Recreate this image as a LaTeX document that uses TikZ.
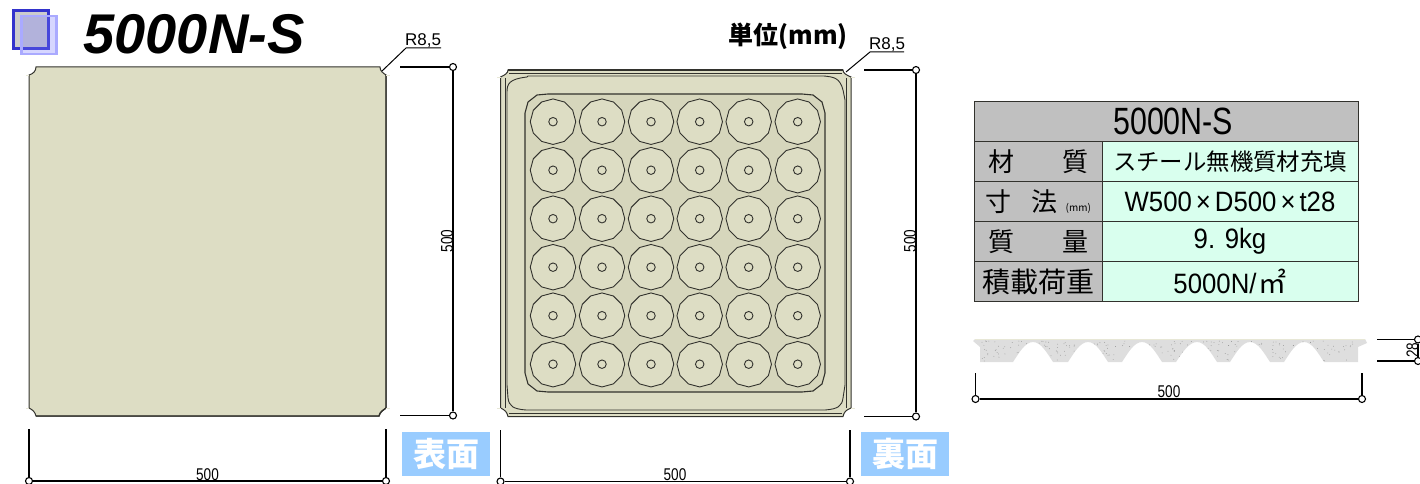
\documentclass[tikz,border=0pt]{standalone}
\usepackage{fontspec}
\usepackage{tikz}
\usetikzlibrary{shapes,positioning}
\setmainfont{Liberation Sans}
\newfontfamily\narrowfont[FakeStretch=0.8]{Liberation Sans}
\newfontfamily\valuefont[FakeStretch=0.92]{Liberation Sans}
\newfontfamily\cjkfont{Noto Sans CJK JP}
\definecolor{plate}{RGB}{221,221,196}
\definecolor{recess}{RGB}{214,214,188}
\definecolor{edge}{RGB}{50,50,45}
\definecolor{cellgrey}{RGB}{192,192,192}
\definecolor{cellgreen}{RGB}{217,255,238}
\definecolor{tagblue}{RGB}{153,204,255}
\tikzset{
  dimdot/.style={circle, draw, minimum size=7pt, inner sep=0pt, line width=1.1pt},
  dimline/.style={draw, line width=1.1pt},
  dimtext/.style={inner sep=0pt, font=\narrowfont\fontsize{17}{17}\selectfont},
  pad/.style={regular polygon, regular polygon sides=12, regular polygon rotate=15, draw=edge, fill=plate, minimum size=45.5pt, inner sep=0pt, line width=0.9pt},
  hole/.style={circle, draw=edge, minimum size=8.5pt, inner sep=0pt, line width=0.9pt},
  headcell/.style={rectangle, draw=edge, fill=cellgrey, line width=1pt, inner sep=0pt, outer sep=0pt, minimum width=383.5pt, minimum height=40pt, font=\narrowfont\fontsize{38}{38}\selectfont},
  labelcell/.style={rectangle, draw=edge, fill=cellgrey, line width=1pt, inner sep=0pt, outer sep=0pt, minimum width=127.5pt, minimum height=40pt, font=\cjkfont\fontsize{26}{26}\selectfont},
  valuecell/.style={rectangle, draw=edge, fill=cellgreen, line width=1pt, inner sep=0pt, outer sep=0pt, minimum width=256pt, minimum height=40pt, font=\valuefont\fontsize{28}{28}\selectfont},
  facetag/.style={rectangle, fill=tagblue, text=white, inner sep=0pt, minimum width=88pt, minimum height=44pt, font=\cjkfont\bfseries\fontsize{33}{33}\selectfont},
  whisker/.style={draw=plate!70!white, line width=0.8pt},
}
\begin{document}
\begin{tikzpicture}[x=1pt, y=-1pt]
\useasboundingbox (0,0) rectangle (1420,484);

\node (iconback) [rectangle, draw={rgb,255:red,51;green,51;blue,204}, fill=black!20, line width=2.5pt, minimum width=35pt, minimum height=38pt, inner sep=0pt] at (31,29.5) {};
\node (iconfront) [rectangle, draw={rgb,255:red,170;green,170;blue,255}, fill={rgb,255:red,120;green,120;blue,255}, fill opacity=0.3, line width=2.5pt, minimum width=35pt, minimum height=38pt, inner sep=0pt] at (39,35) {};
\node (title) [inner sep=0pt, font=\bfseries\itshape\fontsize{56}{56}\selectfont] at (194,34) {5000N-S};
\node (unit) [inner sep=0pt, font=\cjkfont\bfseries\fontsize{25}{25}\selectfont] at (788,36) {単位(mm)};

\draw [edge, line width=1pt, fill=plate] (36,67) -- (380,67) .. controls (380,71) and (383,73) .. (386,75) -- (386,408) .. controls (383,410) and (380,412) .. (379,416) -- (36,416) .. controls (35,412) and (33,410) .. (29,408) -- (29,75) .. controls (33,74) and (36,71) .. (36,67) -- cycle;
\draw [edge, line width=1.4pt] (386,75) -- (386,408) .. controls (383,410) and (380,412) .. (379,416) -- (36,416);
\draw [whisker] (26,75) -- (29,75) (386,75) -- (390,75) (26,408) -- (29,408) (386,408) -- (390,408);

\draw [edge, line width=1pt, fill=plate] (508,70) -- (843,70) .. controls (843,73) and (846,75) .. (851,77) -- (851,408) .. controls (846,410) and (844,412) .. (843,416.5) -- (508,416.5) .. controls (507,412) and (505,410) .. (500.5,408) -- (500.5,77) .. controls (505,75) and (508,73) .. (508,70) -- cycle;
\draw [edge, line width=1.4pt] (508,70) -- (843,70) (508,416.5) -- (843,416.5);
\draw [edge, line width=0.8pt] (509,73) -- (842,73) (509,413) -- (842,413) (505,78) -- (505,408) (846,78) -- (846,408);
\draw [whisker] (497,77) -- (500.5,77) (851,77) -- (855,77) (497,408) -- (500.5,408) (851,408) -- (855,408);
\draw [edge, line width=0.9pt] (507,100) -- (507,92) .. controls (507,84) and (509,79) .. (527,77) -- (528,76) -- (824,76) .. controls (834,77) and (840,78) .. (843,90) -- (845,100) -- (845,385) -- (843,398) .. controls (842,406) and (838,409) .. (825,410) -- (526,410) .. controls (513,409) and (509,406) .. (508,398) -- (507,385) -- cycle;
\draw [edge, line width=1.1pt, fill=recess] (525,113) -- (528,102) -- (537,95) -- (548,94) -- (802,94) -- (813,95) -- (822,102) -- (825,113) -- (825,373) -- (822,384) -- (813,391) -- (802,392) -- (548,392) -- (537,391) -- (528,384) -- (525,373) -- cycle;

\foreach \col/\padx in {1/553,2/602,3/651,4/699.7,5/748.7,6/797.7}
  \foreach \row/\pady in {1/121.7,2/170.2,3/218.7,4/267.2,5/315.7,6/364.2} {
    \node (pad\col\row) [pad] at (\padx,\pady) {};
    \node (hole\col\row) [hole] at (\padx,\pady) {};
  }

\coordinate (leadtipa) at (382,71);
\coordinate (leadkneea) at (406,48);
\coordinate (leadenda) at (441,48);
\node (radiusa) [inner sep=0pt, anchor=south, font=\fontsize{17}{17}\selectfont] at (423,47.5) {R8,5};
\draw [line width=1pt] (leadtipa) -- (leadkneea) -- (leadenda);
\coordinate (leadtipb) at (846,72);
\coordinate (leadkneeb) at (870,52);
\coordinate (leadendb) at (904,52);
\node (radiusb) [inner sep=0pt, anchor=south, font=\fontsize{17}{17}\selectfont] at (887,51.5) {R8,5};
\draw [line width=1pt] (leadtipb) -- (leadkneeb) -- (leadendb);

\node (frontr1) [dimdot] at (453,67) {};
\node (frontr2) [dimdot] at (453,415.5) {};
\coordinate (frontrs1) at (400,67);
\coordinate (frontrs2) at (400,415.5);
\draw [dimline] (frontrs1) -- (frontr1) -- (frontr2) -- (frontrs2);
\node (frontrtext) [dimtext, rotate=90] at (447,241) {500};

\node (frontb1) [dimdot] at (29,481) {};
\node (frontb2) [dimdot] at (386,481) {};
\coordinate (frontbs1) at (29,429);
\coordinate (frontbs2) at (386,429);
\draw [dimline] (frontbs1) -- (frontb1) -- (frontb2) -- (frontbs2);
\node (frontbtext) [dimtext] at (207.5,474.5) {500};

\node (backr1) [dimdot] at (916,70) {};
\node (backr2) [dimdot] at (916,416.5) {};
\coordinate (backrs1) at (864,70);
\coordinate (backrs2) at (864,416.5);
\draw [dimline] (backrs1) -- (backr1) -- (backr2) -- (backrs2);
\node (backrtext) [dimtext, rotate=90] at (910,241) {500};

\node (backb1) [dimdot] at (500.5,481.5) {};
\node (backb2) [dimdot] at (850,481.5) {};
\coordinate (backbs1) at (500.5,430);
\coordinate (backbs2) at (850,430);
\draw [dimline] (backbs1) -- (backb1) -- (backb2) -- (backbs2);
\node (backbtext) [dimtext] at (675,475) {500};

\node (fronttag) [facetag] at (446,454) {表面};
\node (backtag) [facetag] at (905,454) {裏面};

\node (tabhead) [headcell] at (1166.25,121.5) {\hspace{14pt}5000N-S};
\node (matlabel) [labelcell] at (1038.25,161.5) {材\hspace{48pt}質};
\node (sizelabel) [labelcell, below=0pt of matlabel] {寸\hspace{20pt}法\hspace{8pt}{\fontsize{10}{10}\selectfont(mm)}};
\node (masslabel) [labelcell, below=0pt of sizelabel] {質\hspace{48pt}量};
\node (loadlabel) [labelcell, below=0pt of masslabel, font=\cjkfont\fontsize{28}{28}\selectfont] {積載荷重};
\node (matvalue) [valuecell, right=0pt of matlabel, font=\cjkfont\fontsize{23.4}{23.4}\selectfont] {スチール無機質材充填};
\node (sizevalue) [valuecell, right=0pt of sizelabel] {W500\hspace{4pt}×\hspace{4pt}D500\hspace{4pt}×\hspace{4pt}t28};
\node (massvalue) [valuecell, right=0pt of masslabel] {9. 9kg};
\node (loadvalue) [valuecell, right=0pt of loadlabel] {5000N/\hspace{2pt}{\cjkfont ㎡}};

\def\profilepath{(973,341) -- (975,339) -- (1365,339) -- (1367,343) -- (1358,347) -- (1358,362) -- (1324,362) .. controls (1318,353) and (1312,342) .. (1304,342) .. controls (1296,342) and (1290,353) .. (1284,362) -- (1270,362) .. controls (1264,353) and (1258,342) .. (1250,342) .. controls (1242,342) and (1236,353) .. (1230,362) -- (1217,362) .. controls (1211,353) and (1205,342) .. (1197,342) .. controls (1189,342) and (1182,353) .. (1176,362) -- (1162,362) .. controls (1156,353) and (1150,342) .. (1142,342) .. controls (1134,342) and (1128,353) .. (1122,362) -- (1108,362) .. controls (1102,353) and (1096,342) .. (1088,342) .. controls (1080,342) and (1074,353) .. (1068,362) -- (1053,362) .. controls (1047,353) and (1041,342) .. (1033,342) .. controls (1025,342) and (1019,353) .. (1013,362) -- (980,362) -- (980,347) -- cycle}
\fill [black!13] \profilepath;
\begin{scope}
\clip \profilepath;
\pgfmathsetseed{11}
\foreach \k in {1,...,260} {
  \pgfmathsetmacro{\speckx}{982+rnd*374}
  \pgfmathsetmacro{\specky}{341+rnd*20}
  \fill [black!45] (\speckx,\specky) circle (0.4pt);
}
\end{scope}
\draw [whisker] (975,339) -- (1365,339);

\node (sideb1) [dimdot] at (975.5,399) {};
\node (sideb2) [dimdot] at (1362,399) {};
\coordinate (sidebs1) at (975.5,373);
\coordinate (sidebs2) at (1362,373);
\draw [dimline] (sidebs1) -- (sideb1) -- (sideb2) -- (sidebs2);
\node (sidebtext) [dimtext] at (1169,392) {500};

\node (sider1) [dimdot] at (1418,339.5) {};
\node (sider2) [dimdot] at (1418,361) {};
\coordinate (siders1) at (1377,339.5);
\coordinate (siders2) at (1377,361);
\draw [dimline] (siders1) -- (sider1) -- (sider2) -- (siders2);
\node (sidertext) [dimtext, rotate=90] at (1412.5,350) {28};
\end{tikzpicture}
\end{document}
